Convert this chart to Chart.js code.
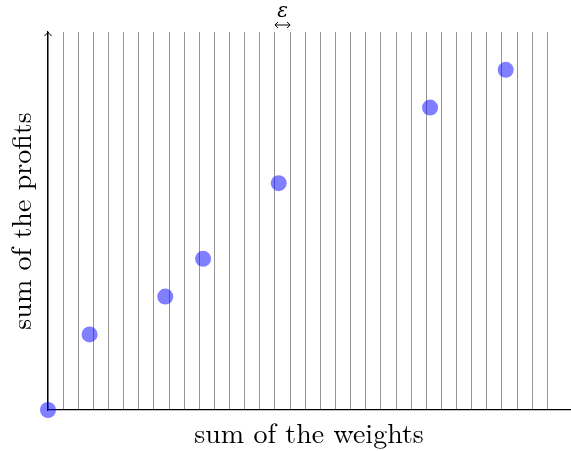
<!DOCTYPE html>
<html lang="en">
<head>
  <meta charset="UTF-8">
  <title>Profits vs weights</title>
  <script src="https://cdn.jsdelivr.net/npm/chart.js"></script>
  <style>
    body { margin: 0; background: #fff; }
    #wrap { width: 571px; height: 451px; }
  </style>
</head>
<body>
  <div id="wrap"><canvas id="chart"></canvas></div>

  <script>
    // x in grid steps (one vertical line per step), y in profit units
    const weights = [0, 2.75, 7.75, 10.25, 15.25, 25.25, 30.25];
    const profits = [0, 2, 3, 4, 6, 8, 9];
    const gridSteps = 34;
    const xMax = 34.5;
    const yMax = 10;
    const epsFrom = 15, epsTo = 16;

    const serif = "'Latin Modern Roman', 'DejaVu Serif', serif";

    const extras = {
      id: 'extras',
      afterDraw(chart) {
        const ctx = chart.ctx;
        const x = chart.scales.x, y = chart.scales.y;
        ctx.save();
        // arrow head on top of the y axis
        const ax = x.getPixelForValue(0), ay = y.getPixelForValue(yMax);
        ctx.strokeStyle = '#000';
        ctx.lineWidth = 1;
        ctx.beginPath();
        ctx.moveTo(ax - 3.5, ay + 4);
        ctx.quadraticCurveTo(ax - 1, ay + 1.5, ax, ay);
        ctx.quadraticCurveTo(ax + 1, ay + 1.5, ax + 3.5, ay + 4);
        ctx.stroke();
        // epsilon marker
        const e1 = x.getPixelForValue(epsFrom), e2 = x.getPixelForValue(epsTo);
        const ey = 25;
        ctx.beginPath();
        ctx.moveTo(e1, ey); ctx.lineTo(e2, ey);
        ctx.moveTo(e1 + 3, ey - 3); ctx.lineTo(e1, ey); ctx.lineTo(e1 + 3, ey + 3);
        ctx.moveTo(e2 - 3, ey - 3); ctx.lineTo(e2, ey); ctx.lineTo(e2 - 3, ey + 3);
        ctx.stroke();
        ctx.fillStyle = '#000';
        ctx.font = "italic 20px " + serif;
        ctx.textAlign = 'center';
        ctx.textBaseline = 'alphabetic';
        ctx.fillText('ε', (e1 + e2) / 2, 17);
        ctx.restore();
      }
    };

    new Chart(document.getElementById('chart'), {
      type: 'scatter',
      data: {
        datasets: [{
          data: weights.map((w, i) => ({ x: w, y: profits[i] })),
          backgroundColor: 'rgba(0, 0, 255, 0.5)',
          borderWidth: 0,
          pointRadius: 8,
          pointHoverRadius: 8,
          clip: false
        }]
      },
      options: {
        responsive: true,
        maintainAspectRatio: false,
        animation: false,
        layout: { autoPadding: false, padding: { top: 32, right: 1, left: 0, bottom: 0 } },
        plugins: { legend: { display: false }, tooltip: { enabled: false } },
        scales: {
          x: {
            type: 'linear',
            min: 0,
            max: xMax,
            afterBuildTicks: s => {
              s.ticks = s.ticks.filter(t => Number.isInteger(t.value) && t.value <= gridSteps);
            },
            afterFit: s => { s.height = 41; },
            ticks: { display: false, stepSize: 1 },
            grid: { color: 'rgba(0,0,0,0.42)', lineWidth: 1, drawTicks: false },
            border: { display: true, color: '#000', width: 1.2 },
            title: {
              display: true,
              text: 'sum of the weights',
              font: { family: serif, size: 28 },
              color: '#000',
              padding: { top: 1, bottom: 0 }
            }
          },
          y: {
            type: 'linear',
            min: 0,
            max: yMax,
            afterFit: s => { s.width = 48; },
            ticks: { display: false },
            grid: { display: false, drawTicks: false },
            border: { display: true, color: '#000', width: 1.2 },
            title: {
              display: true,
              text: 'sum of the profits',
              font: { family: serif, size: 28 },
              color: '#000',
              padding: { top: 6, bottom: 0 }
            }
          }
        }
      },
      plugins: [extras]
    });
  </script>
</body>
</html>
